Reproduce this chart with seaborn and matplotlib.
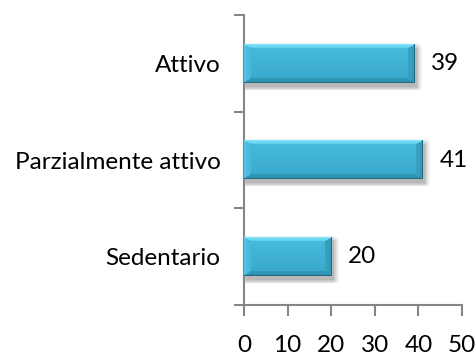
import numpy as np
import pandas as pd
import matplotlib
matplotlib.use("Agg")
import matplotlib.pyplot as plt
from matplotlib.colors import to_rgb
import seaborn as sns

# Activity level categories and their percentages
categories = ["Attivo", "Parzialmente attivo", "Sedentario"]
values = [39, 41, 20]
x_ticks = [0, 10, 20, 30, 40, 50]

sns.set_theme(style="white")
plt.rcParams["font.family"] = ["Lato", "DejaVu Sans"]

AXIS_GREY = "#868686"
FONT_SIZE = 17.5

fig = plt.figure(figsize=(4.77, 3.56), dpi=100)
ax = fig.add_axes([244 / 477, 1 - 305 / 356, (462 - 244) / 477, (305 - 15) / 356])

df = pd.DataFrame({"category": categories, "value": values})
sns.barplot(data=df, x="value", y="category", orient="h", width=0.4,
            color="#3eb3d6", ax=ax, zorder=3)

ax.set_xlim(0, 50)
ax.set_ylim(len(categories) - 0.5, -0.5)
ax.set_xticks(x_ticks)
ax.set_xlabel("")
ax.set_ylabel("")

# Spines and ticks
for side in ("top", "right"):
    ax.spines[side].set_visible(False)
for side in ("left", "bottom"):
    ax.spines[side].set_color(AXIS_GREY)
    ax.spines[side].set_linewidth(1.5)

ax.tick_params(axis="x", which="major", direction="out", length=8, width=1.5,
               color=AXIS_GREY, labelsize=FONT_SIZE, labelcolor="black", pad=13.5,
               bottom=True)
ax.tick_params(axis="y", which="major", length=0, labelsize=FONT_SIZE,
               labelcolor="black", pad=17, left=True)
ax.set_yticks(np.arange(-0.5, len(categories), 1.0), minor=True)
ax.tick_params(axis="y", which="minor", direction="out", length=7, width=1.5,
               color=AXIS_GREY, left=True)

fig.canvas.draw()
renderer = fig.canvas.get_renderer()
inv = ax.transData.inverted()


def hex_rgb(c):
    return np.array(to_rgb(c))


def bevel_image(W, H, b_side=7, b_top=4, b_bot=5):
    """RGB image of a bevelled bar face."""
    i = np.arange(H)[:, None] * np.ones((1, W))
    j = np.ones((H, 1)) * np.arange(W)[None, :]
    d_top = i / b_top
    d_bot = (H - 1 - i) / b_bot
    d_left = j / b_side
    d_right = (W - 1 - j) / b_side
    dists = np.stack([d_top, d_bot, d_left, d_right])
    region = np.argmin(dists, axis=0)
    mind = np.min(dists, axis=0)

    t = (i / max(H - 1, 1))[..., None]
    top_c, bot_c = hex_rgb("#49bddd"), hex_rgb("#38a8ca")
    img = top_c * (1 - t) + bot_c * t

    bevel_cols = [
        (hex_rgb("#7fe2f8"), hex_rgb("#57cbea")),  # top
        (hex_rgb("#2f8fad"), hex_rgb("#3399b7")),  # bottom
        (hex_rgb("#52c3e2"), hex_rgb("#45b6d7")),  # left
        (hex_rgb("#3399b8"), hex_rgb("#3aa2c2")),  # right
    ]
    inside = mind < 1
    s = np.clip(mind, 0, 1)[..., None]
    for k, (c_out, c_in) in enumerate(bevel_cols):
        m = inside & (region == k)
        col = c_out * (1 - s) + c_in * s
        img = np.where(m[..., None], col, img)
    # thin dark outline at bottom and right
    edge = ((H - 1 - i) < 1) | ((W - 1 - j) < 1)
    img = np.where(edge[..., None], hex_rgb("#216a7e"), img)
    return np.clip(img, 0, 1)


for patch in list(ax.patches):
    bb = patch.get_window_extent(renderer)
    W = int(round(bb.width))
    H = int(round(bb.height))
    x0, y0 = patch.get_x(), patch.get_y()
    w, h = patch.get_width(), patch.get_height()

    # soft drop shadow, offset right and down in pixels
    m = 7
    off_x, off_y = 2, 4
    SW, SH = W + 2 * m, H + 2 * m
    ii = np.arange(SH)[:, None] - m - off_y
    jj = np.arange(SW)[None, :] - m - off_x
    dx = np.maximum(np.maximum(-jj, jj - (W - 1)), 0)
    dy = np.maximum(np.maximum(-ii, ii - (H - 1)), 0)
    dist = np.sqrt(dx ** 2 + dy ** 2)
    alpha = 0.28 * np.clip(1 - dist / m, 0, 1) ** 1.5
    shadow = np.zeros((SH, SW, 4))
    shadow[..., 3] = alpha
    px0, py0 = bb.x0 - m, bb.y1 + m
    px1, py1 = bb.x1 + m, bb.y0 - m
    (sx0, sy0), (sx1, sy1) = inv.transform([(px0, py0), (px1, py1)])
    ax.imshow(shadow, extent=[sx0, sx1, sy1, sy0], aspect="auto",
              interpolation="bilinear", zorder=2)

    ax.imshow(bevel_image(W, H), extent=[x0, x0 + w, y0 + h, y0],
              aspect="auto", interpolation="nearest", zorder=4)
    patch.set_visible(False)

ax.set_xlim(0, 50)
ax.set_ylim(len(categories) - 0.5, -0.5)

# Value labels to the right of each bar
for k, v in enumerate(values):
    ax.annotate(f"{v}", xy=(v, k), xytext=(12, 0), textcoords="offset points",
                ha="left", va="center", fontsize=FONT_SIZE, color="black",
                annotation_clip=False)

fig.savefig("out.png", dpi=100)
